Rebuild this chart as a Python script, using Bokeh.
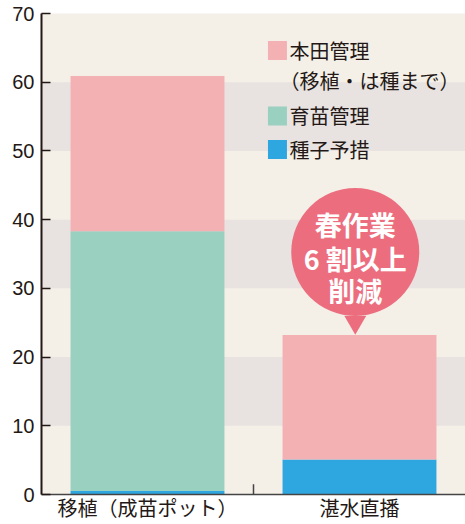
from bokeh.plotting import figure
from bokeh.models import ColumnDataSource, BoxAnnotation, FixedTicker, Range1d
from bokeh.transform import dodge
from bokeh.core.properties import value
from bokeh.embed import file_html
from bokeh.resources import INLINE

# ---- data ----
categories = ["移植（成苗ポット）", "湛水直播"]
seed_prep = [0.5, 5.1]        # 種子予措
nursery = [37.8, 0.0]         # 育苗管理
field_mgmt = [22.6, 18.1]     # 本田管理（移植・は種まで）
y_ticks = [0, 10, 20, 30, 40, 50, 60, 70]
legend_labels = ["本田管理", "（移植・は種まで）", "育苗管理", "種子予措"]
callout_lines = ["春作業", "6 割以上", "削減"]

PINK = "#F3B1B3"
GREEN = "#9AD0C0"
BLUE = "#2EA7E0"
DARK = "#231815"
BG = "#F4F0E8"
BAND = "#E8E3E0"
CALLOUT = "#EC6E7E"
JP = "Noto Sans CJK JP"

p = figure(
    x_range=categories, y_range=Range1d(0, 70),
    width=465, height=524, output_backend="svg", toolbar_location=None,
    min_border_left=41, min_border_right=0, min_border_top=13, min_border_bottom=30,
)
p.background_fill_color = BG
p.border_fill_color = "white"
p.outline_line_color = None
p.xgrid.grid_line_color = None
p.ygrid.grid_line_color = None

for lo in y_ticks[1:-1:2]:
    p.add_layout(BoxAnnotation(bottom=lo, top=lo + 10, fill_color=BAND, fill_alpha=1, line_color=None, level="underlay"))

src = ColumnDataSource(dict(cat=categories, seed=seed_prep, nursery=nursery, field=field_mgmt))
p.vbar_stack(["seed", "nursery", "field"], x="cat", width=0.726, source=src,
             color=[BLUE, GREEN, PINK], line_color=None)

# y axis
p.yaxis.ticker = FixedTicker(ticks=y_ticks)
p.yaxis.axis_line_color = DARK
p.yaxis.axis_line_width = 2
p.yaxis.major_tick_in = 9
p.yaxis.major_tick_out = 0
p.yaxis.major_tick_line_color = DARK
p.yaxis.major_tick_line_width = 1.5
p.yaxis.minor_tick_line_color = None
p.yaxis.major_label_text_font = "Liberation Sans"
p.yaxis.major_label_text_font_size = "20px"
p.yaxis.major_label_text_color = DARK
p.yaxis.major_label_standoff = 7

# x axis
p.xaxis.axis_line_color = "#444444"
p.xaxis.axis_line_width = 1.5
p.xaxis.major_tick_line_color = None
p.xaxis.major_tick_out = 0
p.xaxis.major_tick_in = 0
p.xaxis.major_label_text_font = JP
p.xaxis.major_label_text_font_size = "20px"
p.xaxis.major_label_text_color = DARK
p.xaxis.major_label_standoff = -2

# boundary tick between categories
tsrc = ColumnDataSource(dict(cat=[categories[0]], y0=[0], y1=[1.5]))
p.segment(x0=dodge("cat", 0.5, range=p.x_range), x1=dodge("cat", 0.5, range=p.x_range),
          y0="y0", y1="y1", source=tsrc, line_color="#444444", line_width=1.5)

# legend (manual)
lsrc = ColumnDataSource(dict(cat=[categories[1]] * 3, y=[64.6, 55.1, 50.2], c=[PINK, GREEN, BLUE]))
p.scatter(x=dodge("cat", -0.387, range=p.x_range), y="y", source=lsrc, marker="square",
          size=19, fill_color="c", line_color=None)
p.text(x=dodge("cat", -0.33, range=p.x_range), y="y", text="t",
       source=ColumnDataSource(dict(cat=[categories[1]] * 3, y=[64.6, 55.1, 50.2],
                                    t=[legend_labels[0], legend_labels[2], legend_labels[3]])),
       text_font=value(JP), text_font_size="20px", text_color=DARK,
       text_align="left", text_baseline="middle")
p.text(x=dodge("cat", -0.377, range=p.x_range), y="y", text="t",
       source=ColumnDataSource(dict(cat=[categories[1]], y=[60.3], t=[legend_labels[1]])),
       text_font=value(JP), text_font_size="20px", text_color=DARK,
       text_align="left", text_baseline="middle")

# callout bubble
csrc = ColumnDataSource(dict(cat=[categories[1]], y=[35.3], yt=[25.1]))
p.scatter(x=dodge("cat", -0.02, range=p.x_range), y="yt", source=csrc, marker="inverted_triangle",
          size=22, fill_color=CALLOUT, line_color=None)
p.scatter(x=dodge("cat", -0.02, range=p.x_range), y="y", source=csrc, marker="circle",
          size=128, fill_color=CALLOUT, line_color=None)
ctsrc = ColumnDataSource(dict(cat=[categories[1]] * 3, y=[39.3, 34.4, 29.7], t=callout_lines))
p.text(x=dodge("cat", -0.02, range=p.x_range), y="y", text="t", source=ctsrc,
       text_font=value(JP), text_font_size="27px", text_font_style="bold", text_color="white",
       text_align="center", text_baseline="middle")

open("out.html", "w").write(file_html(p, INLINE))
